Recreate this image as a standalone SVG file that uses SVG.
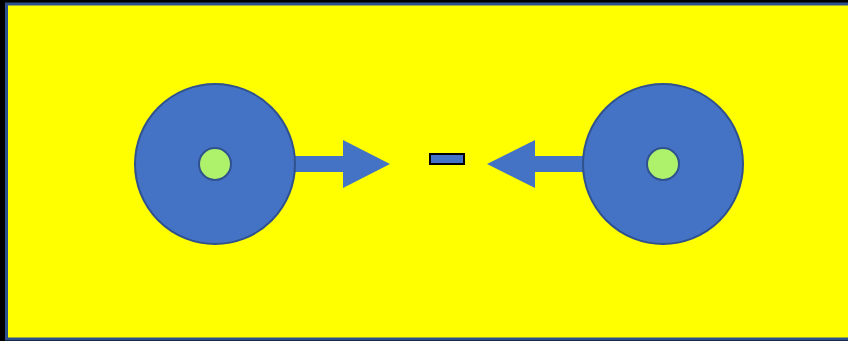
<svg xmlns="http://www.w3.org/2000/svg" width="848" height="341" viewBox="0 0 848 341">
<style>
.big{fill:#4472C4;stroke:#2F528F;stroke-width:2}
.hub{fill:#ADF26A;stroke:#2F528F;stroke-width:2}
.arrow{fill:#4472C4;stroke:none}
</style>
<rect x="0" y="0" width="848" height="341" fill="#000000"/>
<rect x="6.5" y="4" width="845" height="335" fill="#FFFF00" stroke="#2F528F" stroke-width="3"/>
<g id="connectors">
<polygon class="arrow" points="295,156 343,156 343,140 390,164 343,188 343,172 295,172"/>
<polygon class="arrow" points="583,156 535,156 535,140 487,164 535,188 535,172 583,172"/>
</g>
<g id="left-wheel">
<circle class="big" cx="215" cy="164" r="80"/>
<circle class="hub" cx="215" cy="164" r="16"/>
</g>
<g id="right-wheel">
<circle class="big" cx="663" cy="164" r="80"/>
<circle class="hub" cx="663" cy="164" r="16"/>
</g>
<g id="center-block">
<rect x="430" y="154" width="34" height="10" fill="#4472C4" stroke="#000000" stroke-width="2"/>
</g>
</svg>
